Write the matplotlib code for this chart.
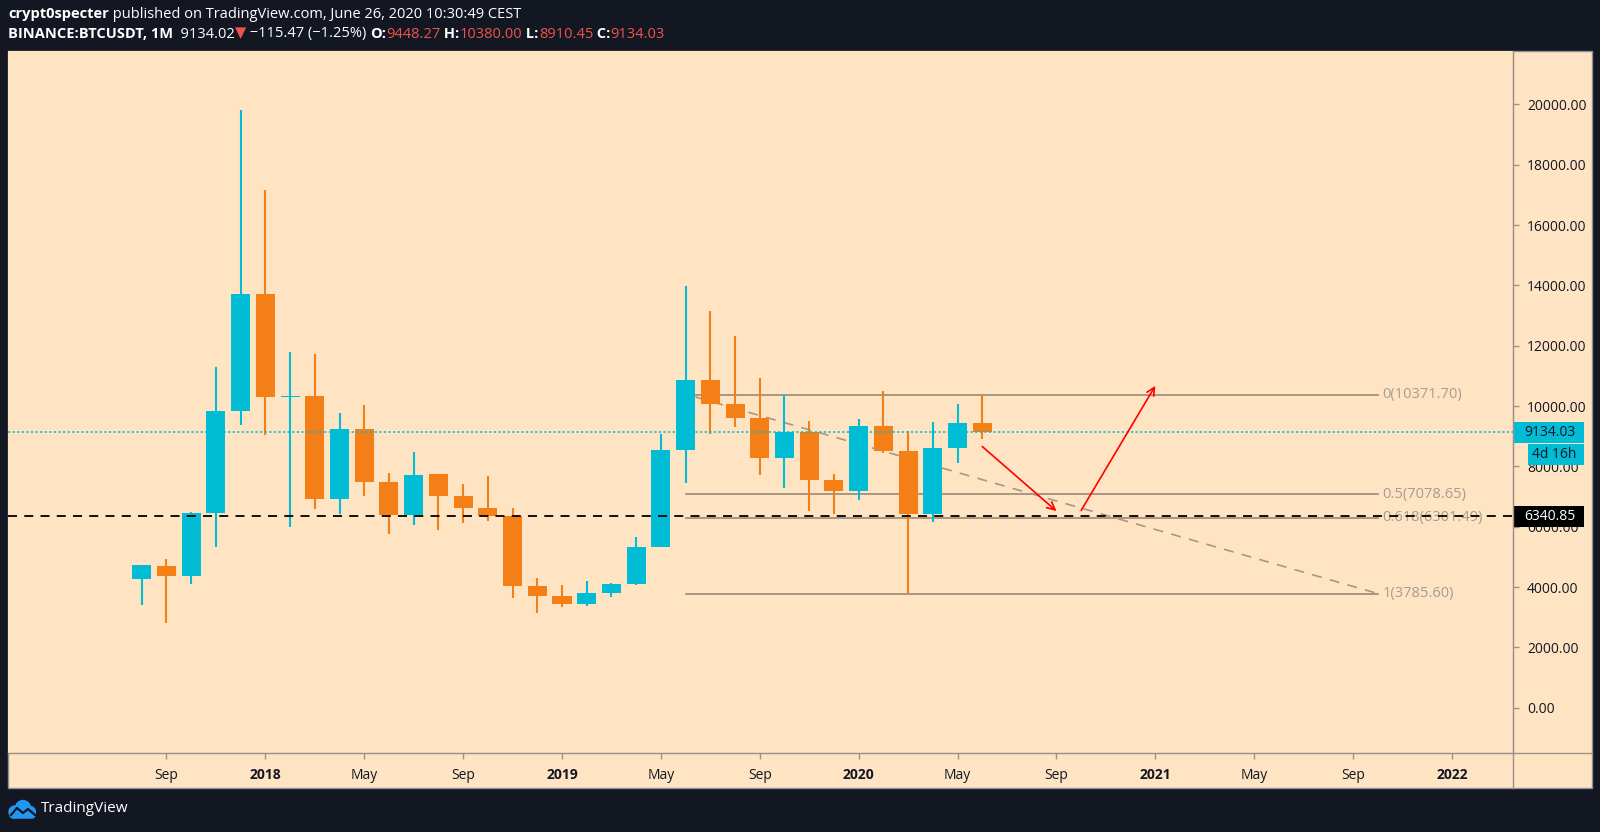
import matplotlib
matplotlib.use("Agg")
import matplotlib.pyplot as plt
from matplotlib.patches import Rectangle, Circle, FancyBboxPatch
from matplotlib.lines import Line2D

# ---------------------------------------------------------
# Data: BINANCE BTCUSDT monthly candles, Aug 2017 .. Jun 2020
# ---------------------------------------------------------
months = ["2017-08", "2017-09", "2017-10", "2017-11", "2017-12",
          "2018-01", "2018-02", "2018-03", "2018-04", "2018-05", "2018-06",
          "2018-07", "2018-08", "2018-09", "2018-10", "2018-11", "2018-12",
          "2019-01", "2019-02", "2019-03", "2019-04", "2019-05", "2019-06",
          "2019-07", "2019-08", "2019-09", "2019-10", "2019-11", "2019-12",
          "2020-01", "2020-02", "2020-03", "2020-04", "2020-05", "2020-06"]
opens = [4261.48, 4689.89, 4378.49, 6463.00, 9837.00,
         13715.65, 10285.10, 10325.64, 6922.00, 9246.01, 7485.01,
         6391.08, 7735.67, 7011.21, 6626.57, 6369.52, 4041.27,
         3701.23, 3434.10, 3814.26, 4102.44, 5321.94, 8555.00,
         10854.10, 10080.53, 9588.74, 8289.97, 9140.86, 7540.63,
         7195.24, 9351.71, 8523.61, 6412.14, 8620.00, 9448.27]
highs = [4745.42, 4939.19, 6498.01, 11300.03, 19798.68,
         17176.24, 11786.01, 11710.00, 9759.82, 10020.00, 7786.69,
         8491.77, 7750.00, 7410.00, 7680.00, 6615.15, 4312.99,
         4069.80, 4198.00, 4140.00, 5656.74, 9074.26, 13970.00,
         13147.08, 12325.00, 10939.75, 10370.00, 9513.64, 7750.00,
         9578.00, 10500.00, 9188.00, 9460.00, 10067.00, 10380.00]
lows = [3400.00, 2817.00, 4110.00, 5325.01, 9380.00,
        9035.00, 6000.01, 6600.10, 6430.00, 7032.95, 5750.00,
        6070.00, 5880.00, 6111.00, 6205.00, 3652.66, 3156.26,
        3349.92, 3373.10, 3670.69, 4067.00, 5316.20, 7444.58,
        9071.00, 9320.00, 7710.00, 7300.00, 6515.00, 6435.00,
        6871.04, 8445.00, 3782.13, 6150.11, 8117.00, 8910.45]
closes = [4724.89, 4378.51, 6463.00, 9838.96, 13716.36,
          10285.10, 10326.50, 6923.91, 9246.01, 7485.01, 6390.07,
          7730.93, 7011.21, 6626.57, 6371.93, 4041.32, 3702.90,
          3434.10, 3813.69, 4103.95, 5320.81, 8555.00, 10854.10,
          10080.53, 9588.74, 8289.34, 9140.85, 7541.89, 7195.23,
          9352.89, 8523.61, 6410.44, 8620.00, 9448.27, 9134.03]

# month index 0 = Aug 2017
tick_idx = [1, 5, 9, 13, 17, 21, 25, 29, 33, 37, 41, 45, 49, 53]
tick_labels = ["Sep", "2018", "May", "Sep", "2019", "May", "Sep",
               "2020", "May", "Sep", "2021", "May", "Sep", "2022"]
price_ticks = [0, 2000, 4000, 6000, 8000, 10000, 12000, 14000, 16000, 18000, 20000]

last_price = 9134.03
countdown_label = "4d 16h"
countdown_pos = 8410
hline_price = 6340.85
fib_ratios = [0, 0.5, 0.618, 1]
fib_values = [10371.70, 7078.65, 6301.49, 3785.60]
fib_start, fib_end = 22, 50
trend_x = [22.4, 50]
trend_y = [10300, 3785.6]
arrow_down = [(34.0, 8660), (37.0, 6520)]
arrow_up = [(38.0, 6540), (41.0, 10670)]

# ---------------------------------------------------------
# Styling
# ---------------------------------------------------------
W, H = 1600, 832
DARK = "#131722"
PEACH = "#ffe4c4"
UP = "#00bcd4"
DOWN = "#f57f17"
RED = "#ef5350"
GRID = "#9b9188"
FIB = "#9c8876"
FIBTXT = "#a69c92"
FONT = ["Open Sans", "DejaVu Sans"]

plt.rcParams["font.family"] = FONT


def fx(px):
    return px / W


def fy(py):
    return 1 - py / H


fig = plt.figure(figsize=(16, 8.32), dpi=100, facecolor=DARK)

# chart pane background (incl. price + time scale)
fig.patches.append(Rectangle((fx(8), fy(788)), fx(1592) - fx(8), fy(51) - fy(788),
                             transform=fig.transFigure, facecolor=PEACH,
                             edgecolor="#8a8f99", lw=1, zorder=-5))

AX_W = 1513 - 8
ax = fig.add_axes([fx(8), fy(753), fx(1513) - fx(8), fy(51) - fy(753)])
ax.set_facecolor(PEACH)
ax.set_xlim(-5.41, 55.47)
ax.set_ylim(-1500, 21770)

for s in ["top", "left"]:
    ax.spines[s].set_visible(False)
ax.spines["right"].set_color(GRID)
ax.spines["bottom"].set_color(GRID)

# candles
xs = list(range(len(opens)))
colors = [UP if c >= o else DOWN for o, c in zip(opens, closes)]
bottoms = [min(o, c) for o, c in zip(opens, closes)]
heights = [max(abs(c - o), 60) for o, c in zip(opens, closes)]
ax.vlines(xs, lows, highs, colors=colors, lw=1.5, zorder=2)
ax.bar(xs, heights, bottom=bottoms, width=0.77, color=colors, zorder=3)

# fib levels
for r, v in zip(fib_ratios, fib_values):
    ax.plot([fib_start, fib_end], [v, v], color=FIB, lw=1.2, zorder=1.8)
    ax.text(fib_end + 0.2, v, f"{r:g}({v:.2f})", color=FIBTXT, fontsize=10.5,
            va="center", ha="left", zorder=1.9)

# dashed trend line
ax.plot(trend_x, trend_y, color="#a89684", lw=1.2, ls=(0, (6, 5)), zorder=1.8)

# last price dotted line and horizontal dashed line
ax.axhline(last_price, color=UP, lw=1.1, ls=(0, (1.5, 1.5)), zorder=4)
ax.axhline(hline_price, color="black", lw=1.3, ls=(0, (5, 4)), zorder=4)

# red arrows
for (x0, y0), (x1, y1) in [arrow_down, arrow_up]:
    ax.annotate("", xy=(x1, y1), xytext=(x0, y0),
                arrowprops=dict(arrowstyle="->", color="red", lw=1.2,
                                mutation_scale=14, shrinkA=0, shrinkB=0),
                zorder=5)

# axes ticks
ax.yaxis.tick_right()
ax.set_yticks(price_ticks)
ax.set_yticklabels([f"{p:.2f}" for p in price_ticks])
ax.tick_params(axis="y", direction="out", length=4, width=1, color=GRID,
               labelsize=10, labelcolor=DARK, pad=6)
ax.set_xticks(tick_idx)
ax.set_xticklabels(tick_labels)
ax.tick_params(axis="x", direction="out", length=4, width=1, color=GRID,
               labelsize=10, labelcolor=DARK, pad=7)
for lab in ax.get_xticklabels():
    if lab.get_text().isdigit():
        lab.set_fontweight("bold")

# price scale labels (boxes sized in pixels)
tr = ax.get_yaxis_transform()
px_per_unit = (753 - 51) / (21770 + 1500)
box_h = 21 / px_per_unit


def price_box(value, label, fc, tc, x0_px=0, w_px=71, tx_px=11):
    ax.add_patch(Rectangle((1.0 + x0_px / AX_W, value - box_h / 2), w_px / AX_W, box_h,
                           transform=tr, facecolor=fc, edgecolor="none",
                           clip_on=False, zorder=6))
    ax.text(1.0 + tx_px / AX_W, value, label, transform=tr, ha="left", va="center",
            fontsize=10, color=tc, clip_on=False, zorder=7)


price_box(last_price, f"{last_price:.2f}", UP, DARK)
price_box(countdown_pos, countdown_label, UP, DARK, x0_px=15, w_px=56, tx_px=19)
price_box(hline_price, f"{hline_price:.2f}", "black", "white")

# full-width separator lines of the price / time scales
fig.lines.append(Line2D([fx(8), fx(1592)], [fy(753), fy(753)],
                        transform=fig.transFigure, color=GRID, lw=1))
fig.lines.append(Line2D([fx(1513), fx(1513)], [fy(51), fy(788)],
                        transform=fig.transFigure, color=GRID, lw=1))

# ---------------------------------------------------------
# Header (mixed-style text chain)
# ---------------------------------------------------------
hax = fig.add_axes([0, 0, 1, 1], facecolor="none")
hax.set_axis_off()
hax.set_zorder(10)


def text_chain(x, y, parts, size=10.5):
    prev = None
    for txt, col, weight in parts:
        if prev is None:
            prev = hax.text(x, y, txt, transform=fig.transFigure, color=col,
                            fontweight=weight, fontsize=size, va="center", ha="left")
        else:
            prev = hax.annotate(txt, xy=(1, 0.5), xycoords=prev, va="center",
                                ha="left", color=col, fontweight=weight, fontsize=size)
    return prev


text_chain(fx(8), fy(14), [
    ("crypt0specter", "white", "bold"),
    (" published on TradingView.com, June 26, 2020 10:30:49 CEST", "white", "normal"),
])
text_chain(fx(8), fy(34), [
    ("BINANCE:BTCUSDT, 1M", "white", "bold"),
    ("  9134.02", "white", "normal"),
    ("▼", RED, "normal"),
    (" \u2212115.47 (\u22121.25%) ", "white", "normal"),
    ("O:", "white", "bold"),
    ("9448.27", RED, "normal"),
    (" H:", "white", "bold"),
    ("10380.00", RED, "normal"),
    (" L:", "white", "bold"),
    ("8910.45", RED, "normal"),
    (" C:", "white", "bold"),
    ("9134.03", RED, "normal"),
])

# footer logo
lax = fig.add_axes([fx(8), fy(820), fx(36) - fx(8), fy(798) - fy(820)])
lax.set_xlim(0, 28)
lax.set_ylim(0, 22)
lax.set_axis_off()
blue = "#2196f3"
lax.add_patch(Circle((15, 12), 7.5, color=blue))
lax.add_patch(Circle((7, 8), 6, color=blue))
lax.add_patch(Circle((22, 8), 5.5, color=blue))
lax.add_patch(FancyBboxPatch((2, 2), 25, 7, boxstyle="round,pad=0,rounding_size=3", color=blue))
lax.plot([3, 9, 15, 20, 27], [5, 12, 7, 11, 5], color=DARK, lw=1.6)
fig.text(fx(41), fy(809), "TradingView", color="white", fontsize=11, va="center", ha="left")

fig.savefig("out.png", dpi=100, facecolor=DARK)
